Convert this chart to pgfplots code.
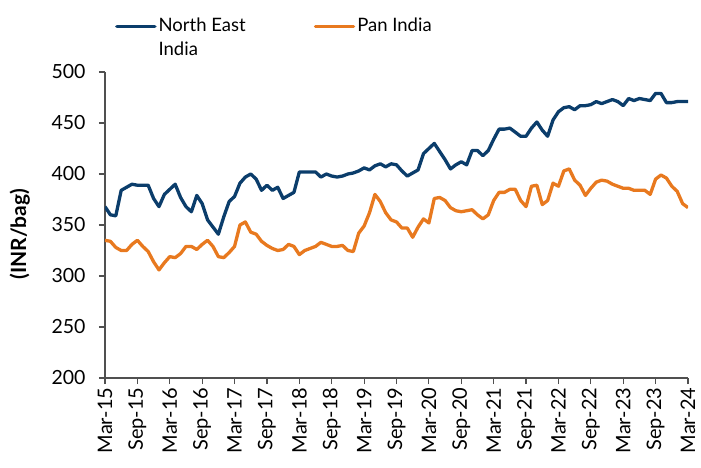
\documentclass[border=0pt]{standalone}
\usepackage{pgfplots}
\usepackage{pgfplotstable}
\pgfplotsset{compat=1.18}
\usepackage{fontspec}
\setmainfont{Lato}
\definecolor{ne}{HTML}{0B3D6B}
\definecolor{pan}{HTML}{E8791F}
\definecolor{axgray}{HTML}{505050}

\pgfplotstableread{
i ne pan
0 368 335
1 360 334
2 359 328
3 384 325
4 387 325
5 390 331
6 389 335
7 389 329
8 389 324
9 376 314
10 368 306
11 380 313
12 385 319
13 390 318
14 377 322
15 368 329
16 363 329
17 379 326
18 371 331
19 355 335
20 348 329
21 341 319
22 358 318
23 373 323
24 378 329
25 391 350
26 397 353
27 400 343
28 395 341
29 384 334
30 389 330
31 384 327
32 387 325
33 376 326
34 379 331
35 382 329
36 402 321
37 402 325
38 402 327
39 402 329
40 397 333
41 400 331
42 398 329
43 397 329
44 398 330
45 400 325
46 401 324
47 403 342
48 406 349
49 404 362
50 408 380
51 410 373
52 407 362
53 410 355
54 409 353
55 403 347
56 398 347
57 401 338
58 404 348
59 420 356
60 425 352
61 430 376
62 422 377
63 414 374
64 405 367
65 409 364
66 412 363
67 409 364
68 423 365
69 423 360
70 418 356
71 423 360
72 434 374
73 444 382
74 444 382
75 445 385
76 441 385
77 437 374
78 437 368
79 445 388
80 451 389
81 443 370
82 437 374
83 453 391
84 461 388
85 465 403
86 466 405
87 463 394
88 467 389
89 467 379
90 468 386
91 471 392
92 469 394
93 471 393
94 473 390
95 471 388
96 467 386
97 474 386
98 472 384
99 474 384
100 473 384
101 472 380
102 479 395
103 479 399
104 470 396
105 470 388
106 471 383
107 471 371
108 471 367
}\datatable

\begin{document}
\begin{tikzpicture}
\useasboundingbox (-105pt,-89pt) rectangle (596pt,378pt);
\begin{axis}[
  at={(0pt,0pt)}, anchor=south west,
  scale only axis, width=583pt, height=306pt,
  xmin=0, xmax=108, ymin=200, ymax=500,
  axis x line*=bottom, axis y line*=left,
  axis line style={axgray, line width=1.2pt},
  tick style={axgray, line width=1.2pt},
  tick align=outside, major tick length=6pt,
  xtick={0,6,...,108},
  xticklabels={Mar-15,Sep-15,Mar-16,Sep-16,Mar-17,Sep-17,Mar-18,Sep-18,Mar-19,Sep-19,Mar-20,Sep-20,Mar-21,Sep-21,Mar-22,Sep-22,Mar-23,Sep-23,Mar-24},
  ytick={200,250,...,500},
  /pgf/number format/assume math mode=true,
  yticklabel style={font=\fontsize{19.5}{19.5}\selectfont, black, xshift=-10pt},
  xticklabel style={font=\fontsize{20}{20}\selectfont, rotate=90, anchor=east, black},
  ylabel={(INR/bag)},
  ylabel style={font=\bfseries\fontsize{21}{21}\selectfont, at={(axis description cs:-0.146,0.47)}, anchor=center},
  legend columns=2,
  legend style={draw=none, fill=none, at={(axis description cs:0.017,1.185)}, anchor=north west,
    font=\fontsize{18.5}{24}\selectfont, inner sep=0pt,
    cells={align=left},
    /tikz/every odd column/.append style={column sep=0pt},
    /tikz/column 2/.append style={column sep=66pt}},
  legend image code/.code={\draw[#1, line width=3.5pt, line cap=round] (0pt,10.5pt) -- (38pt,10.5pt);},
]
\addplot[ne, line width=3.3pt, line join=round] table[x=i, y=ne] {\datatable};
\addlegendentry{North East\\India}
\addplot[pan, line width=3.3pt, line join=round] table[x=i, y=pan] {\datatable};
\addlegendentry{Pan India\\\mbox{}}
\end{axis}
\end{tikzpicture}
\end{document}
